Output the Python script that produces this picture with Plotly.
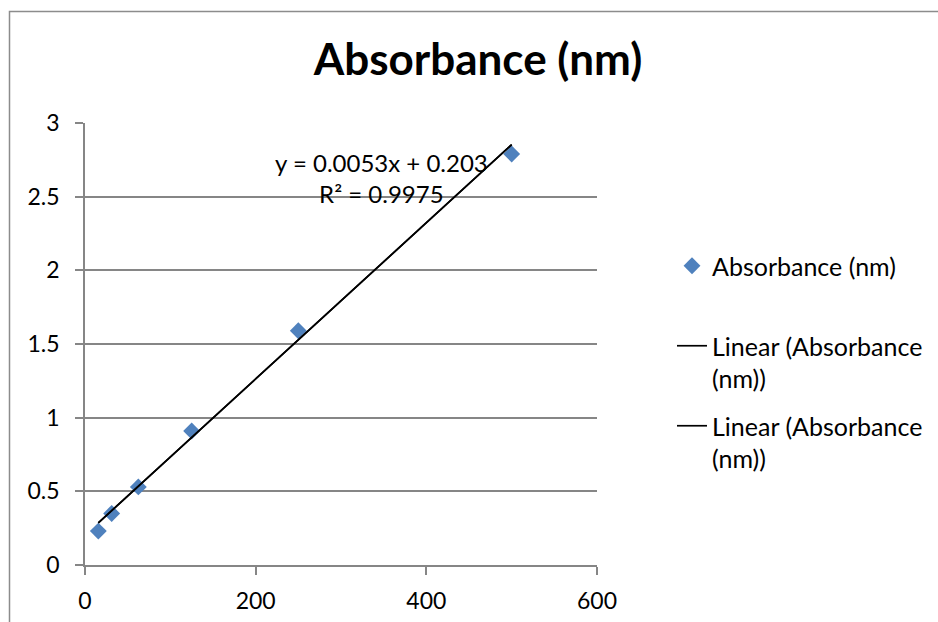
import plotly.graph_objects as go

# Data
conc_x = [15.625, 31.25, 62.5, 125, 250, 500]
absorb_y = [0.23, 0.35, 0.53, 0.91, 1.59, 2.79]
trend_x = [15.625, 500]
trend_y = [0.286, 2.853]
x_ticks = [0, 200, 400, 600]
y_ticks = [0, 0.5, 1, 1.5, 2, 2.5, 3]
series_name = "Absorbance (nm)<br>\u00a0"
trend_name = "Linear (Absorbance<br>(nm))"
equation_text = "y = 0.0053x + 0.203<br>R² = 0.9975"
title_text = "Absorbance (nm)"

FONT = "Lato"
GRID = "#868686"

L, R, T, B = 85, 341, 123, 57
W, H = 938, 622
pw, ph = W - L - R, H - T - B

def px_x(p):
    return (p - L) / pw

def px_y(p):
    return (H - B - p) / ph

fig = go.Figure()
fig.add_trace(go.Scatter(
    x=conc_x, y=absorb_y, mode="markers", name=series_name,
    marker=dict(symbol="diamond", size=13, color="#4F81BD"),
    legendgroup="a",
))
for g in ["b", "c"]:
    fig.add_trace(go.Scatter(
        x=trend_x, y=trend_y, mode="lines", name=trend_name,
        line=dict(color="black", width=1.7), legendgroup=g,
    ))

fig.add_annotation(
    x=348, y=2.63, xref="x", yref="y", text=equation_text, showarrow=False,
    font=dict(family=FONT, size=24, color="black"), align="center",
)

# outer chart-area border (top and left)
fig.add_shape(
    type="path", xref="paper", yref="paper",
    path=f"M {px_x(9.5)} {px_y(640)} L {px_x(9.5)} {px_y(11.5)} L {px_x(960)} {px_y(11.5)}",
    line=dict(color="#8c8c8c", width=1.5),
)

fig.update_layout(
    width=W, height=H,
    margin=dict(l=L, r=R, t=T, b=B, autoexpand=False),
    paper_bgcolor="white", plot_bgcolor="white",
    title=dict(text=title_text, xref="container", x=478 / W, xanchor="center",
               yref="container", y=1 - 60 / H, yanchor="middle",
               font=dict(family=FONT, size=44, color="black", weight="bold")),
    font=dict(family=FONT, color="black"),
    legend=dict(x=px_x(672), xanchor="left", y=px_y(243), yanchor="top",
                font=dict(family=FONT, size=25, color="black"), valign="top",
                tracegroupgap=12, traceorder="grouped", bgcolor="rgba(0,0,0,0)"),
    showlegend=True,
)
fig.update_xaxes(
    range=[0, 600], tickvals=x_ticks, showgrid=False, zeroline=False,
    showline=True, linecolor=GRID, linewidth=1.5,
    ticks="outside", ticklen=8, tickcolor=GRID, tickwidth=1.5,
    tickfont=dict(family=FONT, size=23, color="black"), ticklabelstandoff=7,
)
fig.update_yaxes(
    range=[0, 3], tickvals=y_ticks, showgrid=True, gridcolor=GRID, gridwidth=1.5,
    zeroline=False, showline=True, linecolor=GRID, linewidth=1.5,
    ticks="outside", ticklen=8, tickcolor=GRID, tickwidth=1.5,
    tickfont=dict(family=FONT, size=23, color="black"), ticklabelstandoff=11,
)

fig.write_html("out.html", config={"displayModeBar": False},
               post_script="document.body.style.margin='0';")
